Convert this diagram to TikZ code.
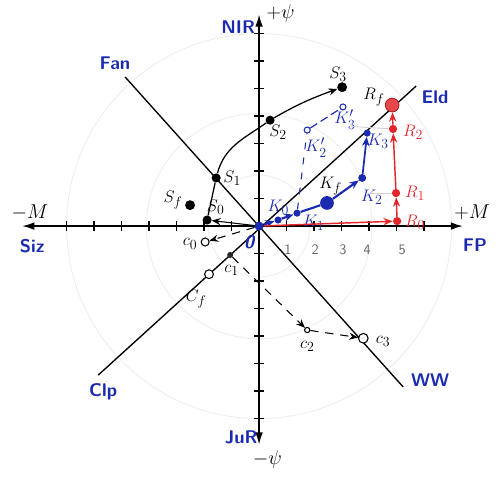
\documentclass[tikz,border=0pt]{standalone}
\usepackage{amsmath,amssymb}
\usepackage{xcolor}
\usepackage{tikz}
\usetikzlibrary{positioning,arrows.meta}
\definecolor{ink}{HTML}{1B2BB0}
\definecolor{redink}{HTML}{E3262B}
\definecolor{faint}{HTML}{EFEFEA}

\begin{document}
\begin{tikzpicture}[
    axisline/.style={line width=1.8pt, {Latex[length=4.5mm,width=2.8mm]}-{Latex[length=4.5mm,width=2.8mm]}},
    diag/.style={line width=1.4pt},
    ring/.style={draw=faint, line width=1pt},
    guide/.style={draw=black!18, line width=0.9pt},
    vname/.style={text=ink, font=\fontsize{19}{21}\selectfont\sffamily\bfseries},
    pole/.style={font=\fontsize{21}{23}\selectfont},
    num/.style={text=black!60, font=\fontsize{15}{17}\selectfont\sffamily},
    tag/.style={font=\fontsize{19}{21}\selectfont, inner sep=0pt},
    sdot/.style={circle, fill=black, inner sep=0pt, minimum size=3.3mm},
    cdot/.style={circle, draw=black, fill=white, line width=1.1pt, inner sep=0pt, minimum size=2.9mm},
    kdot/.style={circle, fill=ink, inner sep=0pt, minimum size=2.6mm},
    kopen/.style={circle, draw=ink, fill=white, line width=1.1pt, inner sep=0pt, minimum size=2.2mm},
    rdot/.style={circle, fill=redink, inner sep=0pt, minimum size=3mm},
    arr/.style={-{Stealth[length=3.2mm,width=2.6mm]}, line width=1.1pt},
    darr/.style={arr, dash pattern=on 3mm off 2.5mm},
    barr/.style={-{Stealth[length=3.4mm,width=2.8mm]}, line width=2.2pt, draw=ink},
    rarr/.style={-{Stealth[length=3.4mm,width=2.6mm]}, line width=1.5pt, draw=redink}
]
    \useasboundingbox (-9.42,-9.45) rectangle (8.76,8.22);

    % faint circles round the origin
    \foreach \r in {1.85,4.1,7.0}
        \draw[ring] (0,0) circle (\r);

    % axes
    \coordinate (xmin) at (-8.62,0);
    \coordinate (xmax) at (7.42,0);
    \coordinate (ymin) at (0,-7.95);
    \coordinate (ymax) at (0,7.7);
    \draw[axisline] (xmin) -- (xmax);
    \draw[axisline] (ymin) -- (ymax);
    \foreach \i in {-7,-6,-5,-4,-3,-2,-1,1,2,3,4,5,6}
        \draw[line width=1.4pt] (\i,-0.17) -- (\i,0.17);
    \foreach \i in {-7,-6,-5,-4,-3,-2,-1,1,2,3,4,5,6,7}
        \draw[line width=1.4pt] (-0.17,\i) -- (0.17,\i);
    \foreach \i/\x in {1/1.05,2/2.04,3/3.05,4/3.93,5/5.2}
        \node[num] at (\x,-0.87) {\i};

    % diagonals
    \coordinate (fan) at (-4.87,5.42);
    \coordinate (ww) at (5.24,-5.85);
    \coordinate (clp) at (-5.85,-5.42);
    \coordinate (eld) at (5.71,5.09);
    \draw[diag] (fan) -- (ww);
    \draw[diag] (clp) -- (eld);

    % axis and diagonal names
    \node[vname] (lnir) at (-0.76,7.25) {NIR};
    \node[pole] (lpsiup) at (0.78,7.72) {$+\psi$};
    \node[vname] (lfan) at (-5.24,5.93) {Fan};
    \node[vname] (leld) at (6.4,4.69) {Eld};
    \node[pole] (lmminus) at (-8.33,0.51) {$-M$};
    \node[vname] (lsiz) at (-8.25,-0.73) {Siz};
    \node[pole] (lmplus) at (7.75,0.5) {$+M$};
    \node[vname] (lfp) at (7.85,-0.7) {FP};
    \node[vname] (lclp) at (-5.67,-6.04) {Clp};
    \node[vname] (lww) at (6.22,-5.6) {WW};
    \node[vname] (ljur) at (-0.65,-7.67) {JuR};
    \node[pole] (lpsidn) at (0.3,-8.5) {$-\psi$};

    % points
    \node[kdot, minimum size=3.3mm] (O) at (0,0) {};
    \node[vname] at (-0.36,-0.58) {\itshape 0};

    \node[sdot] (S0) at (-1.89,0.22) {};
    \node[sdot] (S1) at (-1.56,1.75) {};
    \node[sdot, minimum size=3.6mm] (Sf) at (-2.51,0.76) {};
    \node[sdot] (S2) at (0.40,3.85) {};
    \node[sdot, minimum size=3.6mm] (S3) at (3.02,5.05) {};

    \node[kdot] (K0) at (0.69,0.22) {};
    \node[kdot] (K1) at (1.38,0.47) {};
    \node[kdot, minimum size=5mm] (Kf) at (2.47,0.84) {};
    \node[kdot, minimum size=2.9mm] (K2) at (3.75,1.75) {};
    \node[kdot] (K3) at (3.93,3.38) {};
    \node[kopen] (K2p) at (1.75,3.49) {};
    \node[kopen] (K3p) at (3.05,4.33) {};

    \node[rdot] (R0) at (5.02,0.18) {};
    \node[rdot] (R1) at (4.98,1.2) {};
    \node[rdot] (R2) at (4.87,3.53) {};
    \node[circle, fill=redink!85, draw=redink!70!black, line width=0.8pt, inner sep=0pt, minimum size=5mm] (Rf) at (4.84,4.4) {};

    \node[cdot] (c0) at (-1.96,-0.58) {};
    \node[circle, fill=black!85, inner sep=0pt, minimum size=2.2mm] (c1) at (-1.05,-1.05) {};
    \node[cdot, minimum size=3.2mm] (Cf) at (-1.82,-1.75) {};
    \node[cdot, minimum size=1.9mm] (c2) at (1.75,-3.78) {};
    \node[cdot, minimum size=3.5mm] (c3) at (3.79,-4.08) {};

    % point names
    \node[tag] at (-0.98,1.75) {$S_1$};
    \node[tag] at (-1.58,0.69) {$S_0$};
    \node[tag] at (-3.13,0.95) {$S_f$};
    \node[tag] at (0.69,3.42) {$S_2$};
    \node[tag] at (2.87,5.53) {$S_3$};
    \node[tag, text=ink] at (0.7,0.68) {$K_0$};
    \node[tag, text=ink] at (1.98,0.12) {$K_1$};
    \node[tag] at (2.6,1.45) {$K_f$};
    \node[tag, text=ink] at (4.1,1.05) {$K_2$};
    \node[tag, text=ink] at (4.33,3.09) {$K_3$};
    \node[tag, text=ink] at (2.07,2.84) {$K'_2$};
    \node[tag, text=ink] at (3.12,3.86) {$K'_3$};
    \node[tag, text=redink] at (5.67,0.15) {$R_0$};
    \node[tag, text=redink] at (5.67,1.2) {$R_1$};
    \node[tag, text=redink] at (5.6,3.42) {$R_2$};
    \node[tag] at (4.18,4.68) {$R_f$};
    \node[tag] at (-2.51,-0.65) {$c_0$};
    \node[tag] at (-1.0,-1.6) {$c_1$};
    \node[tag] at (-2.29,-2.65) {$C_f$};
    \node[tag] at (1.75,-4.38) {$c_2$};
    \node[tag] at (4.51,-4.18) {$c_3$};

    % S path
    \draw[arr] (O) -- (S0);
    \draw[line width=1.3pt] (S0) -- (S1);
    \draw[arr, line width=1.3pt] (S1) to[out=75,in=215] (S2) to[out=30,in=200] (S3);

    % K path
    \draw[barr] (O) -- (K0);
    \draw[barr] (K0) -- (K1);
    \draw[barr, -] (K1) -- (Kf);
    \draw[barr] (Kf) -- (K2);
    \draw[barr, line width=1.8pt] (K2) -- (K3);
    \draw[ink, line width=1.1pt, dash pattern=on 2.5mm off 3mm] (K1) -- (K2p);
    \draw[ink, line width=1.2pt, dash pattern=on 3mm off 1.5mm] (K2p) -- (K3p);

    % R path
    \draw[rarr] (O) -- (R0);
    \draw[rarr] (R0) -- (R1);
    \draw[rarr] (R1) -- (R2);
    \draw[rarr] (R2) -- (Rf);
    \coordinate (g1) at (3.9,1.2);
    \coordinate (g2) at (3.35,3.62);
    \draw[guide] (g1) -- (R1);
    \draw[guide] (g2) -- (R2);

    % C path
    \draw[darr] (O) -- (c0);
    \draw[darr] (c1) -- (c2);
    \draw[darr] (c2) -- (c3);
\end{tikzpicture}
\end{document}
